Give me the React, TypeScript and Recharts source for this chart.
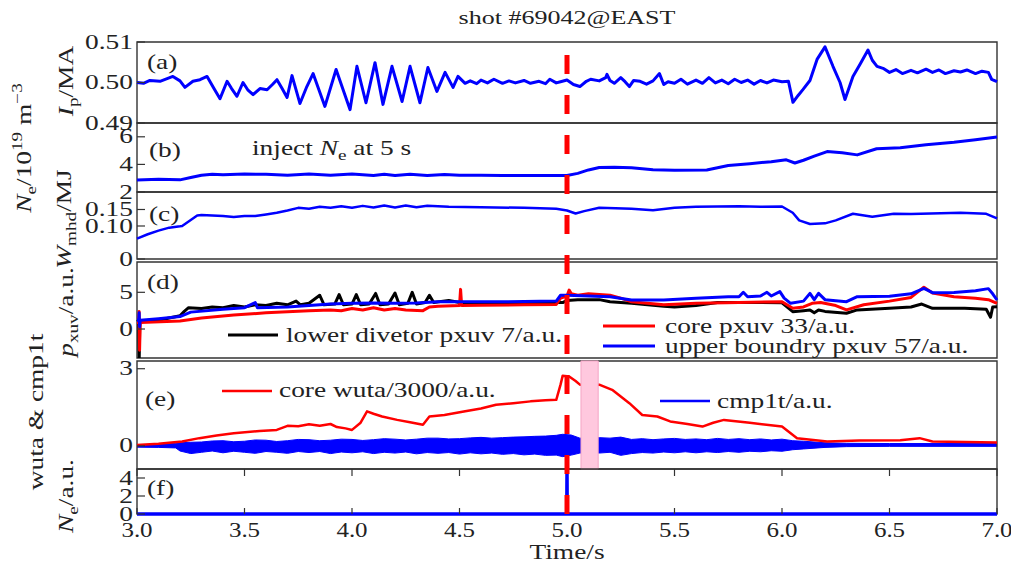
import React from 'react';
import {
  ComposedChart,
  Line,
  Area,
  XAxis,
  YAxis,
  ReferenceArea,
  ReferenceLine,
} from 'recharts';

type Pt = [number, number];

// time axis and per-panel tick values
const timeTicks = [3, 3.5, 4, 4.5, 5, 5.5, 6, 6.5, 7];
const ipTicks = [0.49, 0.5, 0.51];
const neTicks = [2, 4, 6];
const wTicks = [0, 0.1, 0.15];
const pxuvTicks = [0, 5];
const wutaTicks = [0, 3];
const neInjTicks = [0, 2, 4];

const injectTime = 5.0;
const pinkWindow: [number, number] = [5.065, 5.145];

// (a) plasma current, MA
const ipCurve: Pt[] = [
  [3.0, 0.5], [3.03, 0.4998], [3.06, 0.5005], [3.107, 0.5003], [3.167, 0.5015], [3.2, 0.5004],
  [3.223, 0.4988], [3.26, 0.5003], [3.293, 0.5007], [3.326, 0.5015], [3.358, 0.4985], [3.386, 0.496],
  [3.419, 0.5003], [3.44, 0.4985], [3.465, 0.4966], [3.493, 0.5], [3.515, 0.4982], [3.54, 0.497],
  [3.572, 0.4985], [3.605, 0.4982], [3.63, 0.4995], [3.651, 0.5007], [3.675, 0.4985], [3.698, 0.4963],
  [3.721, 0.5017], [3.758, 0.4948], [3.79, 0.499], [3.819, 0.5022], [3.874, 0.4941], [3.926, 0.5032],
  [3.991, 0.4933], [4.023, 0.504], [4.065, 0.495], [4.107, 0.5049], [4.144, 0.4946], [4.186, 0.504],
  [4.233, 0.4953], [4.27, 0.504], [4.316, 0.495], [4.353, 0.5037], [4.395, 0.4978], [4.433, 0.5025],
  [4.47, 0.4988], [4.493, 0.5015], [4.526, 0.4998], [4.55, 0.5004], [4.58, 0.4997], [4.6, 0.5006],
  [4.63, 0.4999], [4.66, 0.5008], [4.7, 0.4998], [4.73, 0.5004], [4.76, 0.4999], [4.8, 0.5005],
  [4.83, 0.4998], [4.87, 0.5003], [4.9, 0.4997], [4.92, 0.5008], [4.95, 0.4999], [4.97, 0.5002],
  [5.0, 0.5006], [5.03, 0.4995], [5.06, 0.499], [5.09, 0.5003], [5.11, 0.5008], [5.15, 0.5004],
  [5.18, 0.5012], [5.186, 0.502], [5.2, 0.5005], [5.22, 0.4998], [5.25, 0.5012], [5.27, 0.5002],
  [5.29, 0.499], [5.31, 0.5005], [5.34, 0.5003], [5.37, 0.4996], [5.4, 0.5004], [5.43, 0.5022],
  [5.45, 0.4995], [5.47, 0.5002], [5.5, 0.4998], [5.53, 0.5008], [5.56, 0.4996], [5.6, 0.5006],
  [5.63, 0.4998], [5.66, 0.5012], [5.69, 0.4999], [5.72, 0.5006], [5.75, 0.4997], [5.78, 0.5008],
  [5.81, 0.5], [5.84, 0.5006], [5.87, 0.4996], [5.9, 0.5005], [5.93, 0.4999], [5.96, 0.5006],
  [6.0, 0.5002], [6.03, 0.5003], [6.051, 0.4951], [6.075, 0.4968], [6.098, 0.4983], [6.13, 0.5005],
  [6.163, 0.5057], [6.2, 0.5088], [6.237, 0.504], [6.27, 0.5], [6.293, 0.4958], [6.33, 0.5015],
  [6.363, 0.5045], [6.4, 0.508], [6.42, 0.5055], [6.442, 0.504], [6.47, 0.5035], [6.5, 0.5025],
  [6.53, 0.5032], [6.56, 0.5022], [6.6, 0.503], [6.63, 0.5024], [6.67, 0.5033], [6.7, 0.5025],
  [6.73, 0.5031], [6.76, 0.5022], [6.8, 0.5029], [6.83, 0.5026], [6.86, 0.5031], [6.9, 0.5022],
  [6.93, 0.5028], [6.96, 0.5025], [6.975, 0.5008], [7.0, 0.5002],
];

// (b) density, 1e19 m^-3
const neCurve: Pt[] = [
  [3.0, 2.87], [3.1, 2.93], [3.2, 2.88], [3.25, 3.05], [3.3, 3.22], [3.35, 3.28], [3.4, 3.25],
  [3.5, 3.3], [3.6, 3.28], [3.7, 3.22], [3.8, 3.3], [3.9, 3.22], [4.0, 3.3], [4.1, 3.2],
  [4.15, 3.28], [4.2, 3.2], [4.27, 3.28], [4.35, 3.2], [4.43, 3.27], [4.5, 3.22], [4.6, 3.22],
  [4.7, 3.2], [4.8, 3.2], [4.9, 3.2], [5.0, 3.2], [5.05, 3.35], [5.1, 3.6], [5.15, 3.78],
  [5.22, 3.8], [5.3, 3.75], [5.4, 3.62], [5.5, 3.58], [5.65, 3.6], [5.75, 3.92], [5.85, 4.05],
  [5.95, 4.2], [6.02, 4.33], [6.06, 4.1], [6.1, 4.3], [6.15, 4.6], [6.21, 4.93], [6.28, 4.85],
  [6.35, 4.69], [6.44, 5.13], [6.55, 5.2], [6.67, 5.42], [6.8, 5.6], [6.9, 5.78], [7.0, 5.98],
];

// (c) stored energy, MJ
const wmhdCurve: Pt[] = [
  [3.0, 0.062], [3.05, 0.075], [3.1, 0.086], [3.15, 0.095], [3.2, 0.099], [3.21, 0.1],
  [3.25, 0.118], [3.28, 0.132], [3.3, 0.133], [3.4, 0.13], [3.45, 0.127], [3.5, 0.13],
  [3.55, 0.13], [3.6, 0.135], [3.65, 0.14], [3.7, 0.147], [3.75, 0.155], [3.8, 0.152],
  [3.85, 0.158], [3.9, 0.155], [3.95, 0.16], [4.0, 0.155], [4.05, 0.161], [4.1, 0.156],
  [4.15, 0.162], [4.2, 0.156], [4.25, 0.162], [4.3, 0.157], [4.35, 0.161], [4.45, 0.158],
  [4.6, 0.157], [4.8, 0.155], [4.95, 0.152], [5.0, 0.147], [5.04, 0.138], [5.08, 0.145],
  [5.15, 0.155], [5.3, 0.152], [5.4, 0.148], [5.5, 0.155], [5.6, 0.158], [5.8, 0.16],
  [5.9, 0.158], [6.0, 0.159], [6.05, 0.14], [6.08, 0.117], [6.13, 0.106], [6.2, 0.108],
  [6.25, 0.117], [6.33, 0.137], [6.42, 0.128], [6.52, 0.137], [6.6, 0.136], [6.83, 0.14],
  [6.95, 0.137], [7.0, 0.123],
];

// (d) pxuv channels, a.u.
const lowerDivCurve: Pt[] = [
  [3.0, 1.0], [3.008, 1.1], [3.01, -4.6], [3.013, 1.0], [3.1, 1.2], [3.2, 1.8], [3.22, 2.4],
  [3.24, 2.9], [3.3, 2.8], [3.35, 3.0], [3.4, 2.9], [3.45, 3.2], [3.5, 3.0], [3.55, 3.3],
  [3.6, 3.2], [3.65, 3.5], [3.7, 3.3], [3.74, 3.8], [3.76, 3.3], [3.8, 3.5], [3.85, 4.6],
  [3.87, 3.3], [3.92, 3.4], [3.94, 4.7], [3.96, 3.3], [4.0, 3.4], [4.02, 4.7], [4.04, 3.3],
  [4.08, 3.4], [4.11, 4.85], [4.13, 3.3], [4.17, 3.4], [4.2, 4.9], [4.22, 3.3], [4.26, 3.5],
  [4.28, 5.0], [4.3, 3.4], [4.34, 3.6], [4.36, 4.6], [4.38, 3.6], [4.45, 3.9], [4.5, 3.6],
  [4.6, 3.6], [4.8, 3.6], [4.98, 3.6], [5.0, 3.9], [5.05, 4.0], [5.15, 4.0], [5.2, 3.72],
  [5.3, 3.5], [5.45, 3.1], [5.5, 3.0], [5.6, 3.2], [5.7, 3.6], [5.8, 3.6], [5.9, 3.6],
  [6.0, 3.58], [6.05, 2.36], [6.1, 2.5], [6.13, 2.6], [6.15, 2.2], [6.17, 2.6], [6.2, 2.4],
  [6.3, 2.14], [6.35, 2.6], [6.5, 2.82], [6.6, 3.0], [6.65, 3.4], [6.7, 2.82], [6.85, 2.82],
  [6.95, 2.7], [6.97, 1.6], [6.98, 3.0], [7.0, 3.04],
];

const coreCurve: Pt[] = [
  [3.0, 0.9], [3.008, 0.9], [3.01, 2.4], [3.012, -2.9], [3.015, 0.9], [3.2, 1.1], [3.3, 1.5],
  [3.45, 1.9], [3.6, 2.2], [3.8, 2.5], [3.9, 2.6], [3.95, 2.5], [4.0, 2.8], [4.05, 2.6],
  [4.1, 2.9], [4.15, 2.6], [4.2, 2.8], [4.25, 2.6], [4.33, 2.5], [4.36, 3.0], [4.4, 3.1],
  [4.5, 3.2], [4.505, 5.4], [4.51, 3.2], [4.6, 3.25], [4.8, 3.3], [4.95, 3.35], [4.97, 4.2],
  [5.0, 4.5], [5.01, 5.3], [5.02, 4.8], [5.05, 4.6], [5.1, 4.8], [5.2, 4.6], [5.25, 4.2],
  [5.3, 3.7], [5.45, 3.3], [5.6, 3.5], [5.74, 3.58], [6.0, 3.72], [6.05, 2.82], [6.1, 3.0],
  [6.14, 3.5], [6.18, 3.6], [6.25, 3.2], [6.3, 2.6], [6.38, 3.3], [6.5, 3.8], [6.6, 4.3],
  [6.66, 5.7], [6.7, 4.9], [6.8, 4.4], [6.9, 4.2], [6.96, 4.0], [7.0, 3.5],
];

const upperCurve: Pt[] = [
  [3.0, 1.2], [3.008, 1.2], [3.01, 2.2], [3.012, 0.3], [3.015, 1.2], [3.1, 1.4], [3.2, 1.7],
  [3.25, 2.3], [3.4, 2.7], [3.5, 2.9], [3.55, 3.6], [3.56, 2.9], [3.7, 3.0], [3.8, 3.2],
  [3.9, 3.4], [4.0, 3.5], [4.1, 3.55], [4.2, 3.5], [4.3, 3.55], [4.4, 3.7], [4.5, 3.7],
  [4.7, 3.7], [4.95, 3.8], [4.97, 4.6], [5.0, 4.6], [5.1, 4.5], [5.2, 4.4], [5.3, 3.95],
  [5.45, 3.95], [5.6, 4.2], [5.75, 4.4], [5.8, 4.4], [5.82, 5.0], [5.84, 4.4], [5.9, 4.5],
  [5.93, 5.0], [5.95, 4.5], [5.99, 5.1], [6.01, 4.2], [6.04, 3.5], [6.1, 3.8], [6.13, 4.86],
  [6.15, 4.0], [6.17, 4.86], [6.2, 4.0], [6.3, 3.72], [6.35, 4.4], [6.5, 4.45], [6.6, 4.8],
  [6.66, 5.54], [6.7, 4.95], [6.8, 4.97], [6.9, 5.2], [6.96, 5.5], [6.98, 4.8], [7.0, 3.95],
];

// (e) core wuta / 3000 and cmp1t envelope [t, low, high]
const wutaCurve: Pt[] = [
  [3.0, 0.03], [3.1, 0.08], [3.21, 0.17], [3.29, 0.3], [3.37, 0.4], [3.45, 0.49], [3.57, 0.58],
  [3.65, 0.62], [3.7, 0.78], [3.75, 0.76], [3.8, 0.84], [3.85, 0.78], [3.9, 0.85], [3.93, 0.73],
  [3.97, 0.68], [4.0, 0.62], [4.04, 0.9], [4.07, 1.34], [4.1, 1.25], [4.14, 1.14], [4.21, 1.01],
  [4.27, 0.92], [4.33, 0.82], [4.36, 1.14], [4.43, 1.2], [4.52, 1.34], [4.6, 1.45], [4.67, 1.6],
  [4.75, 1.66], [4.83, 1.73], [4.9, 1.77], [4.95, 1.79], [4.97, 2.38], [4.98, 2.73], [5.01, 2.7],
  [5.04, 2.52], [5.06, 2.38], [5.15, 2.38], [5.21, 2.18], [5.29, 1.66], [5.35, 1.2], [5.42, 1.14],
  [5.48, 0.95], [5.56, 0.85], [5.63, 0.75], [5.68, 0.9], [5.73, 1.01], [5.85, 0.9], [6.0, 0.75],
  [6.07, 0.3], [6.21, 0.17], [6.36, 0.21], [6.55, 0.22], [6.64, 0.3], [6.7, 0.17], [7.0, 0.13],
];

const cmp1tBand: [number, number, number][] = [
  [3.0, -0.05, 0.05], [3.1, -0.06, 0.06], [3.18, -0.08, 0.1], [3.2, -0.2, 0.12], [3.25, -0.3, 0.14],
  [3.3, -0.25, 0.15], [3.35, -0.2, 0.19], [3.4, -0.27, 0.2], [3.45, -0.21, 0.16], [3.5, -0.25, 0.18],
  [3.55, -0.29, 0.23], [3.6, -0.22, 0.22], [3.65, -0.25, 0.17], [3.7, -0.29, 0.2], [3.75, -0.22, 0.25],
  [3.8, -0.26, 0.24], [3.85, -0.22, 0.2], [3.9, -0.3, 0.22], [3.95, -0.24, 0.26], [4.0, -0.27, 0.25],
  [4.05, -0.23, 0.21], [4.1, -0.3, 0.24], [4.15, -0.25, 0.28], [4.2, -0.28, 0.26], [4.25, -0.24, 0.23],
  [4.3, -0.31, 0.26], [4.35, -0.26, 0.3], [4.4, -0.29, 0.3], [4.45, -0.26, 0.27], [4.5, -0.32, 0.28],
  [4.55, -0.27, 0.31], [4.6, -0.31, 0.33], [4.65, -0.28, 0.3], [4.7, -0.33, 0.32], [4.75, -0.3, 0.34],
  [4.8, -0.35, 0.35], [4.85, -0.32, 0.37], [4.9, -0.37, 0.38], [4.95, -0.36, 0.41], [4.98, -0.42, 0.45],
  [5.02, -0.36, 0.42], [5.06, -0.28, 0.3], [5.1, -0.25, 0.28], [5.15, -0.28, 0.32], [5.2, -0.25, 0.3],
  [5.25, -0.37, 0.34], [5.3, -0.3, 0.25], [5.35, -0.26, 0.28], [5.4, -0.28, 0.24], [5.45, -0.24, 0.27],
  [5.5, -0.27, 0.29], [5.55, -0.23, 0.25], [5.6, -0.27, 0.27], [5.65, -0.23, 0.24], [5.7, -0.26, 0.29],
  [5.75, -0.22, 0.25], [5.8, -0.25, 0.28], [5.85, -0.21, 0.24], [5.9, -0.23, 0.27], [5.95, -0.19, 0.23],
  [6.0, -0.21, 0.26], [6.05, -0.15, 0.2], [6.1, -0.12, 0.18], [6.2, -0.06, 0.12], [6.3, -0.03, 0.1],
  [6.5, -0.02, 0.09], [7.0, -0.02, 0.09],
];

// (f) injected Ne, a.u.
const neInjCurve: Pt[] = [[3.0, 0], [4.999, 0], [5.0, 4.9], [5.001, 0], [7.0, 0]];

// invisible extent for the full-height guide chart
const guideRows = [{ t: 3, v: 0 }, { t: 7, v: 1 }];

const rows = (pts: Pt[]) => pts.map(([t, v]) => ({ t, v }));
const bandRows = cmp1tBand.map(([t, lo, hi]) => ({ t, r: [lo, hi] }));

// the source figure uses a horizontally stretched serif face
const FONT = '"Liberation Serif", serif';
const FS = 20;
const SX = 1.37;
const INK = '#333';
const TXT = '#222';
const BLUE = '#0000ff';
const RED = '#ff0000';
const W = 1011;
const H = 569;
const PAD = 16;

type XMode = 'hidden' | 'marks' | 'labels';

interface PanelProps {
  top: number;
  bottom: number;
  domain: [number, number];
  ticks: number[];
  fmt: (v: number) => string;
  xMode?: XMode;
  clip?: boolean;
  data?: object[];
  children?: React.ReactNode;
}

const noTick = () => <g />;

const yTick = (fmt: (v: number) => string) => (props: any) => (
  <text
    transform={`translate(${props.x},${props.y}) scale(${SX},1)`}
    textAnchor="end"
    dy="0.33em"
    fill={TXT}
    fontSize={FS}
    fontFamily={FONT}
  >
    {fmt(props.payload.value)}
  </text>
);

const xTick = (props: any) => (
  <text
    transform={`translate(${props.x},${props.y}) scale(1.25,1)`}
    textAnchor="middle"
    dy="0.68em"
    fill={TXT}
    fontSize={FS}
    fontFamily={FONT}
  >
    {Number(props.payload.value).toFixed(1)}
  </text>
);

const Panel: React.FC<PanelProps> = ({ top, bottom, domain, ticks, fmt, xMode = 'hidden', clip = false, data, children }) => {
  const xH = xMode === 'labels' ? 44 : PAD;
  const h = bottom - top + PAD + xH;
  return (
    <div style={{ position: 'absolute', left: 0, top: top - PAD, width: W, height: h }}>
      <ComposedChart
        width={W}
        height={h}
        data={data}
        margin={{ top: PAD, right: 0, left: 0, bottom: xMode === 'hidden' ? xH : 0 }}
      >
        <XAxis
          dataKey="t"
          type="number"
          domain={[3, 7]}
          ticks={timeTicks}
          interval={0}
          hide={xMode === 'hidden'}
          height={xH}
          axisLine={false}
          tickLine={{ stroke: INK, strokeWidth: 1.2 }}
          tickSize={xMode === 'labels' ? -6 : 7}
          tickMargin={xMode === 'labels' ? 15 : 2}
          tick={xMode === 'labels' ? xTick : noTick}
        />
        <YAxis
          type="number"
          domain={domain}
          ticks={ticks}
          interval={0}
          allowDataOverflow={clip}
          width={137}
          axisLine={false}
          tickLine={{ stroke: INK, strokeWidth: 1.2 }}
          tickSize={-8}
          tickMargin={12}
          tick={yTick(fmt)}
        />
        <YAxis
          yAxisId="r"
          orientation="right"
          type="number"
          domain={domain}
          ticks={ticks}
          interval={0}
          width={14}
          axisLine={false}
          tickLine={{ stroke: INK, strokeWidth: 1.2 }}
          tickSize={-8}
          tick={noTick}
        />
        {children}
        <ReferenceArea
          x1={3}
          x2={7}
          y1={domain[0]}
          y2={domain[1]}
          fill="none"
          stroke={INK}
          strokeWidth={1.4}
          ifOverflow="visible"
        />
      </ComposedChart>
    </div>
  );
};

const series = (pts: Pt[], color: string, width: number, key: string) => (
  <Line
    key={key}
    data={rows(pts)}
    dataKey="v"
    type="linear"
    stroke={color}
    strokeWidth={width}
    strokeLinejoin="round"
    dot={false}
    activeDot={false}
    isAnimationActive={false}
  />
);

// stretched text helper for labels, legends and annotations
const Wide: React.FC<{ x: number; y: number; rot?: boolean; anchor?: 'start' | 'middle' | 'end'; size?: number; children: React.ReactNode }> = ({
  x, y, rot = false, anchor = 'start', size, children,
}) => (
  <text
    transform={`translate(${x},${y})${rot ? ' rotate(-90)' : ''} scale(${SX},1)`}
    textAnchor={anchor}
    fontSize={size}
  >
    {children}
  </text>
);

const Sub: React.FC<{ children: React.ReactNode }> = ({ children }) => (
  <tspan fontSize={14} dy={5}>{children}</tspan>
);

export default function App() {
  return (
    <div style={{ position: 'absolute', left: 0, top: 0, width: W, height: H, background: '#fff', overflow: 'hidden' }}>
      <style>{'.recharts-surface{overflow:visible}'}</style>

      <Panel top={42} bottom={123} domain={[0.49, 0.51]} ticks={ipTicks} fmt={(v) => v.toFixed(2)}>
        {series(ipCurve, BLUE, 3, 'ip')}
      </Panel>

      <Panel top={123} bottom={192} domain={[2, 7]} ticks={neTicks} fmt={(v) => String(v)}>
        {series(neCurve, BLUE, 3, 'ne')}
      </Panel>

      <Panel top={192} bottom={259} domain={[0, 0.203]} ticks={wTicks} fmt={(v) => (v === 0 ? '0' : v.toFixed(2))}>
        {series(wmhdCurve, BLUE, 2.5, 'w')}
      </Panel>

      <Panel top={262} bottom={358} domain={[-3.95, 9.13]} ticks={pxuvTicks} fmt={(v) => String(v)} clip>
        {series(lowerDivCurve, '#000', 3, 'lower')}
        {series(coreCurve, RED, 3, 'core')}
        {series(upperCurve, BLUE, 3, 'upper')}
      </Panel>

      <Panel top={361} bottom={469} domain={[-0.9, 3.3]} ticks={wutaTicks} fmt={(v) => String(v)} xMode="marks" data={bandRows}>
        <Area
          dataKey="r"
          type="linear"
          stroke={BLUE}
          strokeWidth={1}
          fill={BLUE}
          fillOpacity={1}
          dot={false}
          activeDot={false}
          isAnimationActive={false}
        />
        {series(wutaCurve, RED, 2.5, 'wuta')}
        <ReferenceArea
          x1={pinkWindow[0]}
          x2={pinkWindow[1]}
          y1={-0.9}
          y2={3.3}
          fill="#ffc8de"
          fillOpacity={1}
          stroke="#f5a3c4"
          strokeWidth={1}
          zIndex={1500}
        />
      </Panel>

      <Panel top={469} bottom={514} domain={[0, 5]} ticks={neInjTicks} fmt={(v) => String(v)} xMode="labels">
        {series(neInjCurve, BLUE, 3.5, 'neinj')}
      </Panel>

      {/* injection time guide across all panels */}
      <div style={{ position: 'absolute', left: 0, top: 0, width: W, height: H }}>
        <ComposedChart width={W} height={H} data={guideRows} margin={{ top: 55, right: 14, bottom: H - 514, left: 137 }}>
          <XAxis dataKey="t" type="number" domain={[3, 7]} hide />
          <YAxis type="number" domain={[0, 1]} hide />
          <Line dataKey="v" stroke="none" dot={false} activeDot={false} isAnimationActive={false} />
          <ReferenceLine
            x={injectTime}
            stroke={RED}
            strokeWidth={5}
            strokeDasharray="19 21"
            ifOverflow="visible"
            zIndex={2000}
          />
        </ComposedChart>
      </div>

      <svg
        width={W}
        height={H}
        style={{ position: 'absolute', left: 0, top: 0, pointerEvents: 'none' }}
        fontFamily={FONT}
        fill={TXT}
        fontSize={FS}
      >
        <Wide x={567} y={24} anchor="middle" size={19}>shot #69042@EAST</Wide>
        <Wide x={567} y={559} anchor="middle">Time/s</Wide>

        <Wide x={73} y={81} rot anchor="middle">
          <tspan fontStyle="italic">I</tspan><Sub>p</Sub><tspan dy={-5}>/MA</tspan>
        </Wide>
        <Wide x={31} y={148} rot anchor="middle">
          <tspan fontStyle="italic">N</tspan><Sub>e</Sub><tspan dy={-5}>/10</tspan>
          <tspan fontSize={14} dy={-9}>19</tspan><tspan dy={9}> m</tspan>
          <tspan fontSize={14} dy={-9}>−3</tspan>
        </Wide>
        <Wide x={71} y={219} rot anchor="middle">
          <tspan fontStyle="italic">W</tspan><Sub>mhd</Sub><tspan dy={-5}>/MJ</tspan>
        </Wide>
        <Wide x={73} y={312} rot anchor="middle">
          <tspan fontStyle="italic">p</tspan><Sub>xuv</Sub><tspan dy={-5}>/a.u.</tspan>
        </Wide>
        <Wide x={43} y={412} rot anchor="middle">wuta &amp; cmp1t</Wide>
        <Wide x={73} y={496} rot anchor="middle">
          <tspan fontStyle="italic">N</tspan><Sub>e</Sub><tspan dy={-5}>/a.u.</tspan>
        </Wide>

        <Wide x={147} y={69}>(a)</Wide>
        <Wide x={149} y={157}>(b)</Wide>
        <Wide x={149} y={221}>(c)</Wide>
        <Wide x={147} y={289}>(d)</Wide>
        <Wide x={145} y={406}>(e)</Wide>
        <Wide x={147} y={495}>(f)</Wide>

        <Wide x={252} y={155}>
          inject <tspan fontStyle="italic">N</tspan><Sub>e</Sub><tspan dy={-5}> at 5 s</tspan>
        </Wide>

        <line x1={228} x2={278} y1={335} y2={335} stroke="#000" strokeWidth={3} />
        <Wide x={286} y={342}>lower divetor pxuv 7/a.u.</Wide>
        <line x1={603} x2={655} y1={326} y2={326} stroke={RED} strokeWidth={3} />
        <Wide x={665} y={333}>core pxuv 33/a.u.</Wide>
        <line x1={603} x2={655} y1={346} y2={346} stroke={BLUE} strokeWidth={3} />
        <Wide x={665} y={353}>upper boundry pxuv 57/a.u.</Wide>

        <line x1={222} x2={272} y1={391} y2={391} stroke={RED} strokeWidth={2.5} />
        <Wide x={279} y={397}>core wuta/3000/a.u.</Wide>
        <line x1={660} x2={710} y1={401} y2={401} stroke={BLUE} strokeWidth={2.5} />
        <Wide x={717} y={408}>cmp1t/a.u.</Wide>
      </svg>
    </div>
  );
}
